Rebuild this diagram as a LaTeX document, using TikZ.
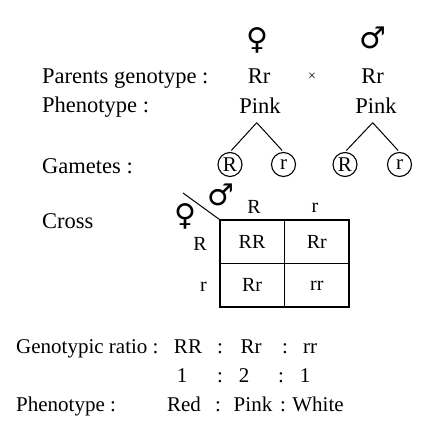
\documentclass[tikz,border=0pt]{standalone}
\usepackage{fontspec}
\setmainfont{Liberation Serif}
\newfontfamily\symbfont{DejaVu Sans}
\usetikzlibrary{positioning}
\tikzstyle{txt}=[inner sep=0pt,anchor=base,font=\fontsize{22.5}{26}\selectfont]
\tikzstyle{heading}=[inner sep=0pt,anchor=base west,font=\fontsize{22.5}{26}\selectfont]
\tikzstyle{sex}=[inner sep=0pt,font=\symbfont\fontsize{30}{34}\selectfont]
\tikzstyle{gamete}=[circle,draw,line width=1.1pt,inner sep=0pt,minimum size=24pt,
font=\fontsize{21}{24}\selectfont]
\tikzstyle{cell}=[rectangle,draw,minimum width=64.5pt,minimum height=43.5pt,
inner sep=0pt,font=\fontsize{20}{24}\selectfont]
\tikzstyle{tlabel}=[inner sep=0pt,font=\fontsize{20}{24}\selectfont]
\tikzstyle{ratio}=[inner sep=0pt,anchor=base,font=\fontsize{21}{24}\selectfont]
\tikzstyle{line}=[line width=1pt]

\begin{document}
\begin{tikzpicture}[x=1pt,y=-1pt]
        \useasboundingbox (0,0) rectangle (432,431);
        % parents
        \node (female) [sex] at (257,40) {♀};
        \node (male) [sex] at (373,38) {♂};
        \node (parents) [heading] at (42,83) {Parents genotype :};
        \node (rrf) [txt] at (259,83) {Rr};
        \node (times) [txt,font=\fontsize{14}{16}\selectfont] at (312,81) {×};
        \node (rrm) [txt] at (372.5,83) {Rr};
        \node (pheno) [heading] at (42,112.5) {Phenotype :};
        \node (pinkf) [txt] at (260,113) {Pink};
        \node (pinkm) [txt] at (376,113) {Pink};
        \coordinate (apexf) at (256.7,122.7);
        \coordinate (apexm) at (372.7,122.7);

        % gametes
        \node (gametes) [heading] at (42,173) {Gametes :};
        \node (gf1) [gamete] at (230,164.5) {R};
        \node (gf2) [gamete] at (283.5,164.5) {r};
        \node (gm1) [gamete] at (345,164.5) {R};
        \node (gm2) [gamete] at (399.5,164.5) {r};

        \draw [line,shorten >=2pt] (apexf) -- (gf1.north);
        \draw [line,shorten >=2pt] (apexf) -- (gf2.north);
        \draw [line,shorten >=2pt] (apexm) -- (gm1.north);
        \draw [line,shorten >=2pt] (apexm) -- (gm2.north);

        % punnett square
        \node (crosslbl) [heading] at (42,228) {Cross};
        \node (c11) [cell] at (252,241.5) {RR};
        \node (c12) [cell,right=0pt of c11] {Rr};
        \node (c21) [cell,below=0pt of c11] {Rr};
        \node (c22) [cell,right=0pt of c21] {rr};
        \draw [line width=1.8pt] (c11.north west) rectangle (c22.south east);

        \node (colR) [tlabel] at (254,206.5) {R};
        \node (colr) [tlabel] at (315,207.5) {r};
        \node (rowR) [tlabel] at (200,243.5) {R};
        \node (rowr) [tlabel] at (203.5,287) {r};
        \node (femsmall) [sex] at (185,216) {♀};
        \node (malesmall) [sex] at (221,195) {♂};
        \coordinate (slash) at (183,193);
        \draw [line] (slash) -- (c11.north west);

        % ratios
        \node (genratio) [ratio,anchor=base west] at (16,353) {Genotypic ratio :};
        \node (gRR) [ratio] at (188,353) {RR};
        \node (gc1) [ratio] at (220,353) {:};
        \node (gRr) [ratio] at (251,353) {Rr};
        \node (gc2) [ratio] at (285,353) {:};
        \node (grr) [ratio] at (310,353) {rr};
        \node (n1) [ratio] at (182,382) {1};
        \node (nc1) [ratio] at (220,382) {:};
        \node (n2) [ratio] at (244,382) {2};
        \node (nc2) [ratio] at (281,382) {:};
        \node (n3) [ratio] at (305,382) {1};
        \node (phenratio) [ratio,anchor=base west] at (16,411) {Phenotype :};
        \node (red) [ratio] at (184,411) {Red};
        \node (pc1) [ratio] at (218,411) {:};
        \node (pink) [ratio] at (253,411) {Pink};
        \node (pc2) [ratio] at (283,411) {:};
        \node (white) [ratio] at (318,411) {White};
\end{tikzpicture}
\end{document}
